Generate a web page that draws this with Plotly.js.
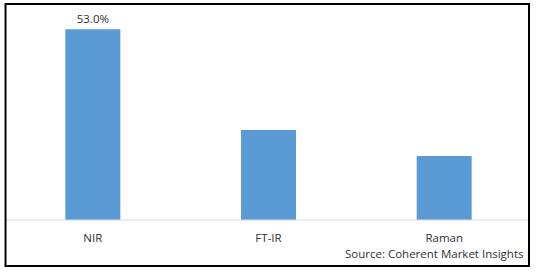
<!DOCTYPE html>
<html>
<head>
<meta charset="utf-8">
<script src="https://cdn.plot.ly/plotly-3.0.1.min.js"></script>
<style>html,body{margin:0;padding:0;background:#fff;}#chart{width:538px;height:272px;}</style>
</head>
<body>
<div id="chart"></div>
<script>
var categories = ["NIR", "FT-IR", "Raman"];
var shares = [53.0, 25.0, 17.8];
var barLabels = ["53.0%", "", ""];
var sourceText = "Source: Coherent Market Insights";

var font = "Open Sans, Liberation Sans, Arial, sans-serif";
var txtColor = "#303030";
var trace = {
  type: "bar",
  x: categories,
  y: shares,
  text: barLabels,
  textposition: "outside",
  cliponaxis: false,
  textfont: {family: font, size: 11.5, color: txtColor},
  marker: {color: "#5b9bd5"},
  hoverinfo: "none"
};
var layout = {
  width: 538, height: 272,
  margin: {l: 5, r: 6, t: 4, b: 52},
  paper_bgcolor: "#fff", plot_bgcolor: "#fff",
  bargap: 0.687,
  showlegend: false,
  font: {family: font, size: 11.5, color: txtColor},
  xaxis: {
    showgrid: false, zeroline: false, showline: false,
    ticks: "outside", ticklen: 7, tickcolor: "rgba(0,0,0,0)",
    tickfont: {family: font, size: 11.5, color: txtColor}
  },
  yaxis: {
    range: [0, 60], showgrid: false, zeroline: false, showline: false,
    showticklabels: false, ticks: ""
  },
  shapes: [
    {type: "line", xref: "paper", yref: "paper", x0: 0, x1: 0.9943, y0: 0, y1: 0,
     line: {color: "#d9d9d9", width: 1}},
    {type: "rect", xref: "paper", yref: "paper", x0: 0.001, x1: 0.9943, y0: -0.213, y1: 1,
     line: {color: "#000", width: 2}}
  ],
  annotations: [
    {text: sourceText, xref: "paper", yref: "paper", x: 0.987, y: -0.157,
     xanchor: "right", yanchor: "middle", showarrow: false,
     font: {family: font, size: 11.5, color: txtColor}}
  ]
};
Plotly.newPlot("chart", [trace], layout, {displayModeBar: false, staticPlot: true});
</script>
</body>
</html>
